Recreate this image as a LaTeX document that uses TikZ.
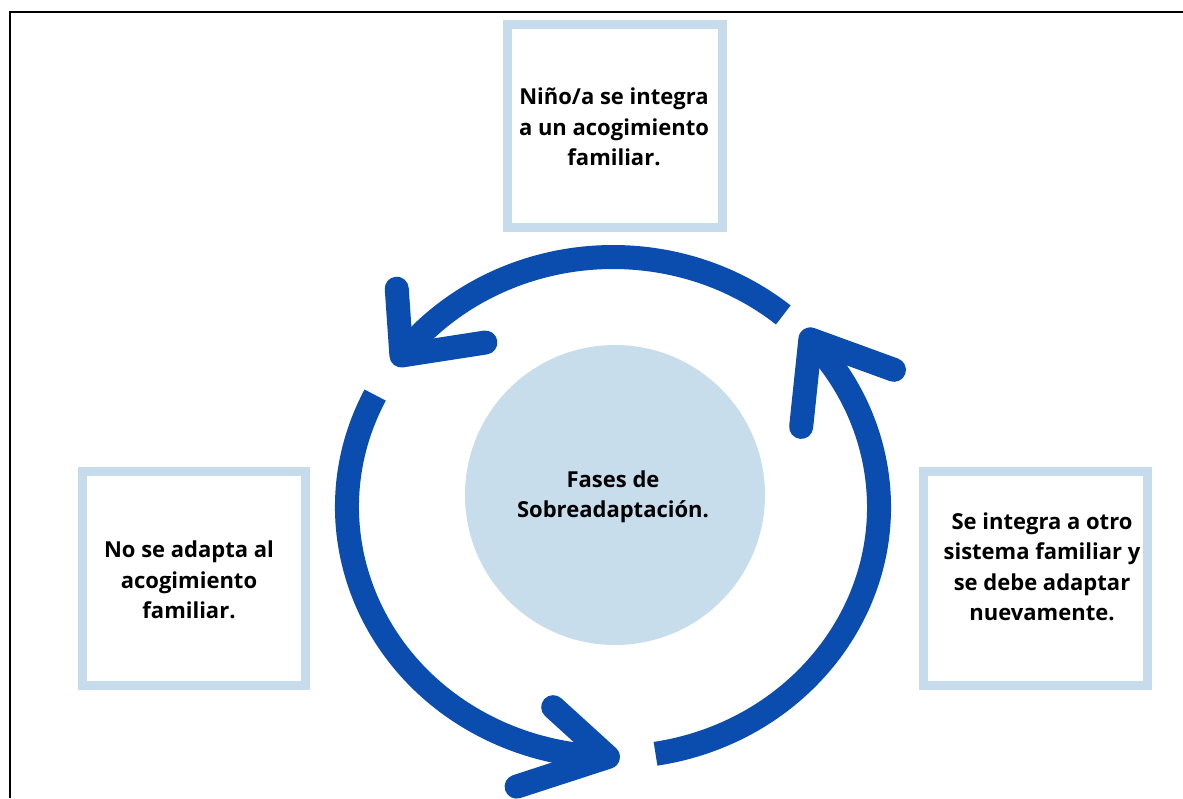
\documentclass[tikz,border=0pt]{standalone}
\usepackage{fontspec}
\setmainfont{Open Sans}
\definecolor{ringblue}{RGB}{11,77,174}
\definecolor{boxblue}{RGB}{198,220,236}
\definecolor{discblue}{RGB}{200,221,236}
\tikzset{
  ringarc/.style={draw=ringblue, line width=24pt, line cap=butt},
  ringhead/.style={draw=ringblue, line width=24pt, line cap=round, line join=round},
  framebox/.style={draw=boxblue, line width=9pt, fill=white, inner sep=0pt},
  boxtext/.style={align=center, text=black, font=\fontsize{22}{30.5}\selectfont\bfseries, inner sep=0pt},
}
\begin{document}
\begin{tikzpicture}[x=1pt,y=1pt]
\useasboundingbox (0,0) rectangle (1183,-798);
\fill[white] (0,0) rectangle (1183,-798);
\draw[line width=2.5pt] (10,-798) -- (10,-12) -- (1183,-12);

% boxes
\node[framebox, minimum width=215pt, minimum height=203pt] (tbox) at (615,-126) {};
\node[framebox, minimum width=223pt, minimum height=214pt] (lbox) at (194,-578.5) {};
\node[framebox, minimum width=224pt, minimum height=214pt] (rbox) at (1035.5,-578.5) {};
\node[boxtext] (ttext) at (614,-127) {Niño/a se integra\\a un acogimiento\\familiar.};
\node[boxtext] (ltext) at (189,-580) {No se adapta al\\acogimiento\\familiar.};
\node[boxtext] (rtext) at (1042,-567) {Se integra a otro\\sistema familiar y\\se debe adaptar\\nuevamente.};

% centre disc
\node[circle, fill=discblue, minimum size=300pt, inner sep=0pt] (disc) at (615,-495) {};
\node[boxtext] (disctext) at (613,-497) {Fases de\\Sobreadaptación.};

% ring arrows
\coordinate (C) at (613,-507);
\coordinate (t1) at ([shift={(142.7:266 and 250)}]C);
\coordinate (t2) at ([shift={(268.9:266 and 250)}]C);
\coordinate (t3) at ([shift={(42.1:266 and 250)}]C);

\draw[ringarc] ([shift={(50.2:266 and 250)}]C) arc[start angle=50.2, end angle=142.7, x radius=266, y radius=250];
\draw[ringhead] ([shift={(94:67)}]t1) -- (t1) -- ([shift={(8.8:85)}]t1);

\draw[ringarc] ([shift={(153.4:266 and 250)}]C) arc[start angle=153.4, end angle=268.9, x radius=266, y radius=250];
\draw[ringhead] ([shift={(137.7:74)}]t2) -- (t2) -- ([shift={(198:96)}]t2);

\draw[ringarc] ([shift={(279.2:266 and 250)}]C) arc[start angle=279.2, end angle=402.1, x radius=266, y radius=250];
\draw[ringhead] ([shift={(264:88)}]t3) -- (t3) -- ([shift={(340:89)}]t3);
\end{tikzpicture}
\end{document}
